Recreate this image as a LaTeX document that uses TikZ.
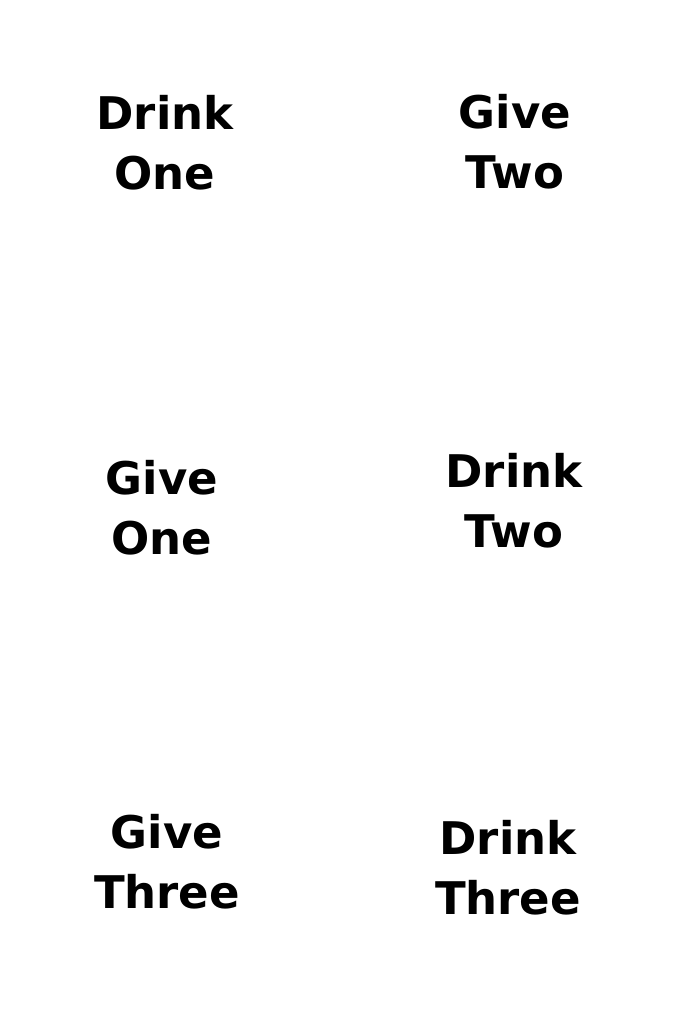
\documentclass[tikz,border=0pt]{standalone}
\usepackage{fontspec}
\setsansfont{DejaVu Sans}
\begin{document}
\begin{tikzpicture}[x=1pt,y=-1pt,
        card/.style={align=center,inner sep=0pt,
            font=\sffamily\bfseries\fontsize{45}{60}\selectfont}]
    \useasboundingbox (0,0) rectangle (682,1024);

\node[card] (drinkone) at (165,143) {Drink\\One};
\node[card] (givetwo) at (515,142) {Give\\Two};

\node[card] (giveone) at (162,508) {Give\\One};
\node[card] (drinktwo) at (514,501) {Drink\\Two};

\node[card] (givethree) at (167,862) {Give\\Three};
\node[card] (drinkthree) at (508,868) {Drink\\Three};

\end{tikzpicture}
\end{document}
